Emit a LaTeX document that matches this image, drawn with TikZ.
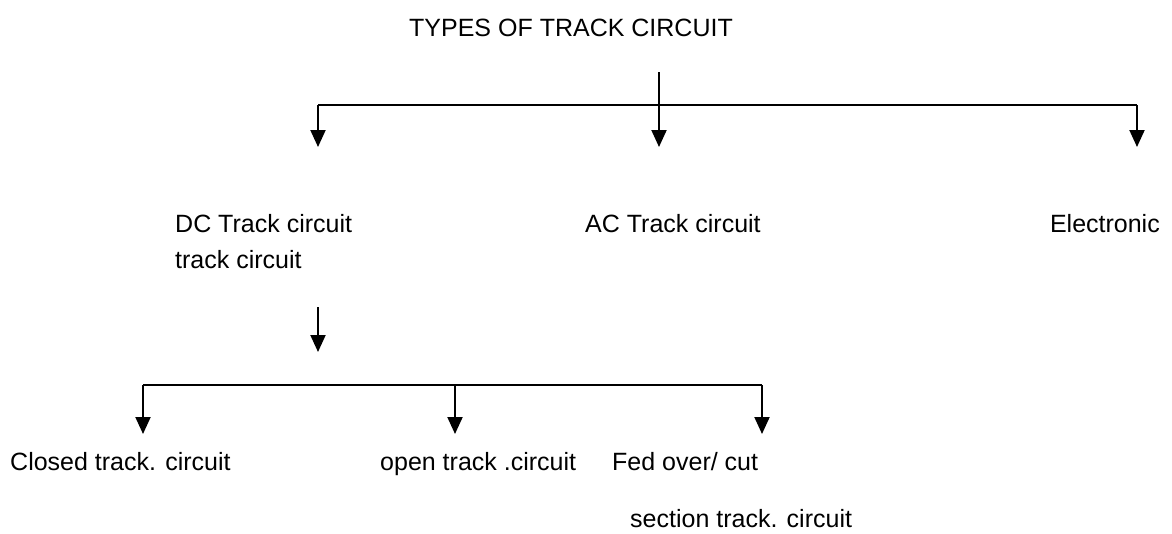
\documentclass[tikz,border=0pt]{standalone}
\usepackage{fontspec}
\setmainfont{Liberation Sans}
\usetikzlibrary{arrows.meta}
\begin{document}
\begin{tikzpicture}[x=1pt,y=-1pt,
  lbl/.style={inner sep=0pt,font=\fontsize{25}{30}\selectfont},
  link/.style={line width=2pt},
  arr/.style={line width=2pt,-{Triangle[width=15pt,length=17pt]}}]
\useasboundingbox[fill=white] (0,0) rectangle (1172,533);
% texts
\node[lbl,anchor=base] (title) at (571,36) {TYPES OF TRACK CIRCUIT};
\node[lbl,anchor=base west] (dc) at (175,232) {DC Track circuit};
\node[lbl,anchor=base west] (dc2) at (175,268) {track circuit};
\node[lbl,anchor=base west] (ac) at (585,232) {AC Track circuit};
\node[lbl,anchor=base east] (el) at (1160,232) {Electronic};
\node[lbl,anchor=base west] (closed) at (10,470) {Closed track. circuit};
\node[lbl,anchor=base west] (open) at (380,470) {open track .circuit};
\node[lbl,anchor=base west] (fed) at (612,470) {Fed over/ cut};
\node[lbl,anchor=base west] (sec) at (630,527) {section track. circuit};
% top tree
\coordinate (t0) at (659,72);
\coordinate (tl) at (318,105);
\coordinate (tr) at (1137,105);
\coordinate (tlend) at (318,147);
\coordinate (tmend) at (659,147);
\coordinate (trend) at (1137,147);
\draw[link] (tl) -- (tr);
\draw[arr] (t0) -- (tmend);
\draw[arr] (tl) -- (tlend);
\draw[arr] (tr) -- (trend);
% dc arrow
\coordinate (d0) at (318,307);
\coordinate (d1) at (318,352);
\draw[arr] (d0) -- (d1);
% bottom tree
\coordinate (bl) at (143,385);
\coordinate (bm) at (455,385);
\coordinate (br) at (762,385);
\coordinate (blend) at (143,434);
\coordinate (bmend) at (455,434);
\coordinate (brend) at (762,434);
\draw[link] (bl) -- (br);
\draw[arr] (bl) -- (blend);
\draw[arr] (bm) -- (bmend);
\draw[arr] (br) -- (brend);
\end{tikzpicture}
\end{document}
